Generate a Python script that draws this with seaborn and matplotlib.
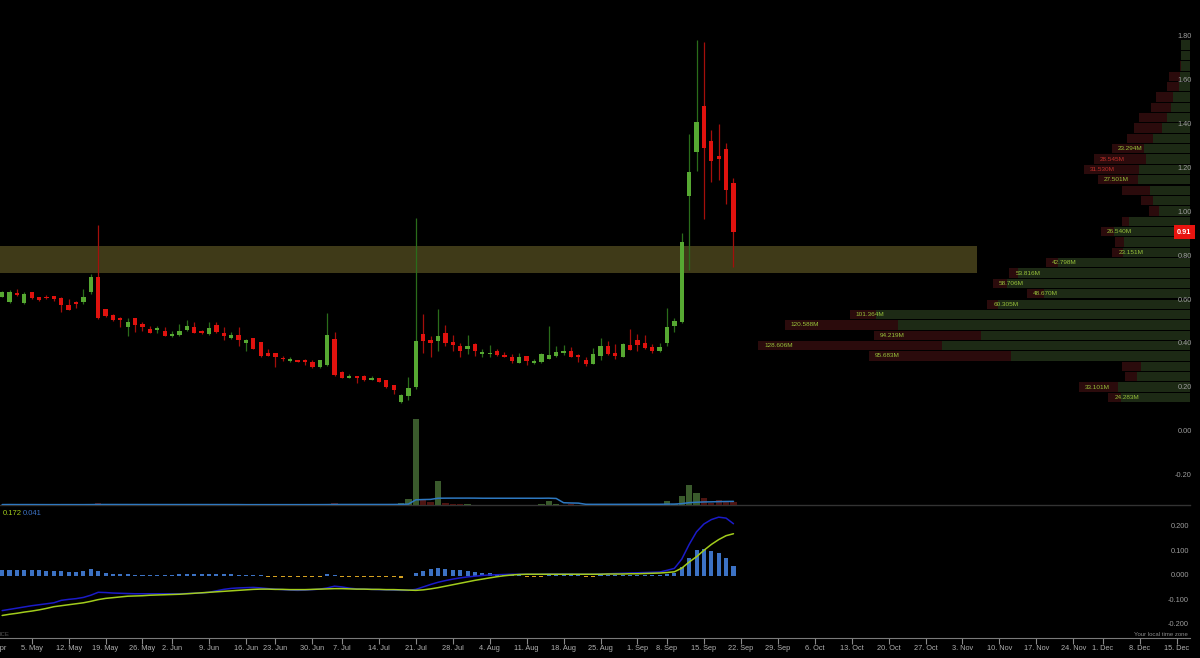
import numpy as np
import pandas as pd
import matplotlib
matplotlib.use("Agg")
import matplotlib.pyplot as plt
import seaborn as sns

# trading calendar (ordinal axis: one slot per trading day)
AXIS_START = "2014-04-28"
FIRST_DAY = "2014-04-29"
HOLIDAYS = ["2014-05-26", "2014-06-19", "2014-07-04", "2014-09-01", "2014-11-27"]

# daily candles
OPEN = [0.616, 0.591, 0.634, 0.585, 0.635, 0.613, 0.616, 0.619, 0.611, 0.579,
        0.590, 0.591, 0.635, 0.707, 0.558, 0.534, 0.520, 0.479, 0.517, 0.490,
        0.470, 0.463, 0.461, 0.437, 0.440, 0.464, 0.478, 0.461, 0.446, 0.485,
        0.451, 0.426, 0.440, 0.405, 0.428, 0.407, 0.358, 0.358, 0.338, 0.322,
        0.329, 0.325, 0.317, 0.294, 0.303, 0.423, 0.273, 0.247, 0.253, 0.252,
        0.237, 0.247, 0.234, 0.212, 0.136, 0.164, 0.203, 0.447, 0.420, 0.414,
        0.452, 0.411, 0.391, 0.376, 0.399, 0.355, 0.356, 0.368, 0.349, 0.342,
        0.315, 0.346, 0.312, 0.317, 0.333, 0.346, 0.358, 0.370, 0.348, 0.327,
        0.311, 0.345, 0.392, 0.361, 0.342, 0.395, 0.418, 0.406, 0.386, 0.370,
        0.406, 0.482, 0.499, 1.076, 1.273, 1.484, 1.324, 1.256, 1.287, 1.135]
HIGH = [0.640, 0.646, 0.649, 0.637, 0.638, 0.616, 0.622, 0.619, 0.616, 0.607,
        0.598, 0.649, 0.720, 0.940, 0.561, 0.538, 0.525, 0.517, 0.517, 0.498,
        0.484, 0.484, 0.479, 0.458, 0.490, 0.510, 0.502, 0.463, 0.499, 0.499,
        0.476, 0.455, 0.479, 0.422, 0.428, 0.407, 0.378, 0.360, 0.346, 0.340,
        0.329, 0.331, 0.328, 0.328, 0.540, 0.455, 0.275, 0.264, 0.255, 0.258,
        0.255, 0.247, 0.237, 0.212, 0.170, 0.249, 0.973, 0.537, 0.438, 0.560,
        0.487, 0.440, 0.406, 0.440, 0.403, 0.377, 0.396, 0.379, 0.365, 0.353,
        0.358, 0.347, 0.330, 0.361, 0.484, 0.389, 0.396, 0.388, 0.355, 0.339,
        0.383, 0.429, 0.414, 0.402, 0.406, 0.467, 0.444, 0.443, 0.402, 0.406,
        0.562, 0.520, 0.907, 1.357, 1.785, 1.774, 1.375, 1.402, 1.314, 1.155]
LOW = [0.612, 0.588, 0.619, 0.582, 0.607, 0.598, 0.604, 0.594, 0.546, 0.555,
       0.563, 0.582, 0.628, 0.514, 0.525, 0.504, 0.479, 0.438, 0.455, 0.458,
       0.449, 0.449, 0.437, 0.434, 0.438, 0.461, 0.449, 0.446, 0.441, 0.451,
       0.419, 0.423, 0.391, 0.370, 0.376, 0.340, 0.343, 0.297, 0.323, 0.319,
       0.317, 0.303, 0.291, 0.291, 0.300, 0.256, 0.246, 0.246, 0.220, 0.231,
       0.235, 0.228, 0.200, 0.174, 0.133, 0.145, 0.197, 0.361, 0.341, 0.370,
       0.391, 0.368, 0.342, 0.355, 0.346, 0.342, 0.342, 0.347, 0.339, 0.314,
       0.312, 0.303, 0.309, 0.315, 0.330, 0.342, 0.350, 0.339, 0.318, 0.300,
       0.308, 0.327, 0.350, 0.330, 0.341, 0.373, 0.368, 0.377, 0.359, 0.365,
       0.391, 0.455, 0.495, 0.737, 1.188, 0.968, 1.136, 1.147, 1.038, 0.749]
CLOSE = [0.637, 0.637, 0.623, 0.629, 0.610, 0.601, 0.608, 0.607, 0.576, 0.555,
         0.581, 0.613, 0.707, 0.520, 0.528, 0.507, 0.511, 0.502, 0.487, 0.478,
         0.452, 0.475, 0.438, 0.446, 0.460, 0.484, 0.451, 0.448, 0.475, 0.455,
         0.438, 0.443, 0.419, 0.419, 0.378, 0.344, 0.346, 0.341, 0.332, 0.332,
         0.319, 0.317, 0.294, 0.328, 0.441, 0.259, 0.247, 0.256, 0.247, 0.234,
         0.247, 0.229, 0.203, 0.191, 0.167, 0.200, 0.414, 0.412, 0.403, 0.438,
         0.406, 0.394, 0.367, 0.391, 0.368, 0.364, 0.361, 0.349, 0.341, 0.321,
         0.339, 0.324, 0.323, 0.356, 0.350, 0.362, 0.368, 0.342, 0.342, 0.309,
         0.353, 0.389, 0.355, 0.344, 0.399, 0.374, 0.394, 0.380, 0.367, 0.388,
         0.479, 0.503, 0.864, 1.185, 1.413, 1.294, 1.235, 1.244, 1.103, 0.910]
# daily volume, millions
VOLUME = [0.6, 0.8, 0.5, 0.7, 0.6, 0.4, 0.4, 0.5, 0.7, 0.6,
          0.4, 0.6, 1.2, 2.6, 0.8, 0.6, 0.5, 0.5, 0.6, 0.4,
          0.5, 0.4, 0.5, 0.4, 0.5, 0.6, 0.5, 0.4, 0.5, 0.5,
          0.6, 0.4, 0.7, 0.5, 0.8, 0.9, 0.6, 0.7, 0.5, 0.4,
          0.5, 0.6, 0.7, 0.6, 1.5, 3.5, 0.8, 0.5, 0.6, 0.5,
          0.4, 0.6, 0.8, 0.9, 3.5, 9.5, 128.6, 8.6, 5.0, 35.6,
          2.6, 1.5, 0.9, 1.0, 0.7, 0.5, 0.6, 0.5, 0.5, 0.6,
          0.5, 0.6, 0.4, 0.9, 5.6, 1.2, 0.7, 0.8, 0.6, 0.7,
          0.9, 2.0, 0.8, 0.7, 1.2, 0.9, 0.8, 0.7, 0.6, 0.8,
          5.6, 2.0, 13.1, 30.5, 18.5, 10.1, 3.5, 7.1, 5.0, 4.1]

# MACD panel
MACD = [-0.143, -0.138, -0.133, -0.128, -0.123, -0.119, -0.115, -0.111, -0.101, -0.097,
        -0.094, -0.089, -0.080, -0.068, -0.069, -0.071, -0.072, -0.073, -0.074, -0.074,
        -0.074, -0.074, -0.074, -0.074, -0.074, -0.073, -0.072, -0.071, -0.068, -0.062,
        -0.056, -0.052, -0.050, -0.049, -0.048, -0.050, -0.053, -0.055, -0.057, -0.059,
        -0.060, -0.059, -0.057, -0.055, -0.050, -0.043, -0.046, -0.051, -0.054, -0.055,
        -0.056, -0.057, -0.058, -0.059, -0.060, -0.060, -0.056, -0.046, -0.036, -0.027,
        -0.020, -0.014, -0.009, -0.005, -0.002, 0.001, 0.003, 0.004, 0.005, 0.006,
        0.006, 0.006, 0.006, 0.006, 0.007, 0.007, 0.007, 0.007, 0.006, 0.006,
        0.006, 0.007, 0.008, 0.009, 0.010, 0.011, 0.012, 0.013, 0.014, 0.015,
        0.022, 0.030, 0.068, 0.128, 0.180, 0.212, 0.230, 0.240, 0.236, 0.213]
SIGNAL = [-0.163, -0.158, -0.154, -0.149, -0.145, -0.140, -0.134, -0.127, -0.123, -0.119,
          -0.115, -0.111, -0.105, -0.098, -0.093, -0.090, -0.087, -0.084, -0.083, -0.082,
          -0.080, -0.079, -0.078, -0.077, -0.076, -0.074, -0.072, -0.070, -0.068, -0.066,
          -0.064, -0.062, -0.060, -0.058, -0.056, -0.055, -0.055, -0.056, -0.056, -0.057,
          -0.057, -0.057, -0.056, -0.055, -0.054, -0.053, -0.053, -0.054, -0.055, -0.055,
          -0.056, -0.056, -0.057, -0.057, -0.058, -0.059, -0.060, -0.058, -0.054, -0.049,
          -0.043, -0.037, -0.031, -0.025, -0.019, -0.014, -0.009, -0.004, 0.000, 0.003,
          0.005, 0.006, 0.006, 0.006, 0.006, 0.006, 0.006, 0.006, 0.006, 0.006,
          0.006, 0.006, 0.007, 0.007, 0.007, 0.008, 0.008, 0.009, 0.010, 0.011,
          0.013, 0.016, 0.031, 0.056, 0.078, 0.104, 0.128, 0.148, 0.164, 0.172]
HIST = [0.023, 0.023, 0.023, 0.023, 0.023, 0.023, 0.020, 0.020, 0.020, 0.016,
        0.016, 0.020, 0.027, 0.019, 0.010, 0.007, 0.007, 0.005, 0.003, 0.003,
        0.003, 0.003, 0.003, 0.003, 0.006, 0.006, 0.006, 0.006, 0.006, 0.006,
        0.006, 0.006, 0.004, 0.002, 0.001, 0.001, -0.004, -0.004, -0.004, -0.004,
        -0.004, -0.004, -0.004, -0.004, 0.008, 0.001, -0.004, -0.004, -0.004, -0.004,
        -0.004, -0.004, -0.004, -0.004, -0.008, -0.003, 0.011, 0.019, 0.027, 0.033,
        0.027, 0.025, 0.023, 0.020, 0.016, 0.011, 0.010, 0.008, 0.005, 0.003,
        0.002, -0.004, -0.004, -0.004, 0.001, 0.001, 0.001, 0.001, 0.001, -0.004,
        -0.004, 0.001, 0.001, 0.002, 0.002, 0.003, 0.003, 0.003, 0.003, 0.003,
        0.006, 0.013, 0.037, 0.072, 0.105, 0.109, 0.102, 0.092, 0.072, 0.041]

# volume by price, millions, bottom bin to top bin
PROFILE_TOTAL = [24.283, 33.101, 19.4, 20.2, 95.683, 128.606, 94.219, 120.588, 101.364, 60.305,
                 48.670, 58.706, 53.816, 42.798, 23.151, 22.4, 26.540, 20.2, 12.2, 14.6,
                 20.2, 27.501, 31.530, 28.545, 23.294, 18.8, 16.6, 15.2, 11.6, 10.1,
                 6.8, 6.2, 3.0, 2.7, 2.7]
PROFILE_SELL = [3.6, 11.6, 3.6, 5.7, 42.3, 54.8, 31.9, 33.6, 8.0, 3.0,
                5.1, 4.2, 2.7, 3.6, 3.3, 2.7, 3.9, 2.1, 3.0, 3.6,
                8.3, 11.9, 16.4, 15.5, 9.5, 7.7, 8.2, 8.5, 5.9, 4.9,
                3.6, 3.2, 0.4, 0.0, 0.0]

# highlighted zone
BAND_LOW, BAND_HIGH = 0.725, 0.845
BAND_END = "2014-11-05"

PRICE_TICKS = [1.80, 1.60, 1.40, 1.20, 1.00, 0.80, 0.60, 0.40, 0.20, 0.00, -0.20]
MACD_TICKS = [0.200, 0.100, 0.000, -0.100, -0.200]
TICK_DATES = ["2014-04-28", "2014-05-05", "2014-05-12", "2014-05-19", "2014-05-26",
              "2014-06-02", "2014-06-09", "2014-06-16", "2014-06-23", "2014-06-30",
              "2014-07-07", "2014-07-14", "2014-07-21", "2014-07-28", "2014-08-04",
              "2014-08-11", "2014-08-18", "2014-08-25", "2014-09-01", "2014-09-08",
              "2014-09-15", "2014-09-22", "2014-09-29", "2014-10-06", "2014-10-13",
              "2014-10-20", "2014-10-27", "2014-11-03", "2014-11-10", "2014-11-17",
              "2014-11-24", "2014-12-01", "2014-12-08", "2014-12-15"]
TICK_LABELS = ["28. Apr", "5. May", "12. May", "19. May", "26. May", "2. Jun", "9. Jun",
               "16. Jun", "23. Jun", "30. Jun", "7. Jul", "14. Jul", "21. Jul", "28. Jul",
               "4. Aug", "11. Aug", "18. Aug", "25. Aug", "1. Sep", "8. Sep", "15. Sep",
               "22. Sep", "29. Sep", "6. Oct", "13. Oct", "20. Oct", "27. Oct", "3. Nov",
               "10. Nov", "17. Nov", "24. Nov", "1. Dec", "8. Dec", "15. Dec"]

GREEN_BODY, GREEN_WICK = "#56a832", "#2a6c1a"
RED_BODY, RED_WICK = "#e0120e", "#a40f0b"
LABEL_GRAY = "#9c9c9c"


def slot(dates):
    return np.busday_count(AXIS_START, np.array(dates, dtype="datetime64[D]"), holidays=HOLIDAYS)


sns.set_theme(style="dark", rc={"axes.facecolor": "black", "figure.facecolor": "black",
                                "savefig.facecolor": "black"})
plt.rcParams["font.family"] = ["Liberation Sans Narrow", "Liberation Sans", "DejaVu Sans"]

W, H = 1200, 658
fig = plt.figure(figsize=(W / 100, H / 100), dpi=100)
ax = fig.add_axes([0, 1 - 505 / H, 1190 / W, 505 / H])
ax_macd = fig.add_axes([0, 1 - 638 / H, 1190 / W, 131 / H], sharex=ax)

o, h, l, c = (np.array(v) for v in (OPEN, HIGH, LOW, CLOSE))
dates = np.busday_offset(FIRST_DAY, np.arange(len(o)), roll="forward", holidays=HOLIDAYS)
x = slot(dates)
up = c >= o

# zone
ax.fill_between([0.0, slot([BAND_END])[0]], BAND_LOW, BAND_HIGH, color="#3f3a18", lw=0, zorder=1)

# candles
ax.vlines(x[up], l[up], h[up], color=GREEN_WICK, lw=0.9, zorder=3)
ax.vlines(x[~up], l[~up], h[~up], color=RED_WICK, lw=0.9, zorder=3)
body_lo = np.minimum(o, c)
body_h = np.maximum(np.abs(c - o), 0.005)
ax.bar(x, body_h, bottom=body_lo, width=0.58, lw=0,
       color=np.where(up, GREEN_BODY, RED_BODY), zorder=4)

ax.set_xlim(0.71, 161.8)
ax.set_ylim(-0.3335, 1.967)

# volume
ax_vol = ax.twinx()
ax_vol.bar(x, VOLUME, width=0.85, lw=0, color=np.where(up, "#3a5a2c", "#4e1512"), zorder=2)
vol_sma = pd.Series(VOLUME).rolling(20, min_periods=1).mean()
sns.lineplot(x=x, y=vol_sma.values, ax=ax_vol, color="#2e78c0", lw=1.1)
ax_vol.set_ylim(0, 757.5)

# volume by price
ax_prof = ax.twiny()
total = np.array(PROFILE_TOTAL)
sell = np.array(PROFILE_SELL)
buy = total - sell
edges = np.linspace(l.min(), h.max(), len(total) + 1)
step = edges[1] - edges[0]
centers = edges[:-1] + step / 2
ax_prof.barh(centers, buy, height=step * 0.9, left=0, color="#1d2a15", lw=0)
ax_prof.barh(centers, sell, height=step * 0.9, left=buy, color="#2b0b0c", lw=0)
for yc, t, s, b in zip(centers, total, sell, buy):
    if t >= 23:
        ax_prof.annotate(f"{t:.3f}M", (t, yc), xytext=(6, 0), textcoords="offset pixels",
                         ha="left", va="center", fontsize=4.6,
                         color="#c0302a" if s > b else "#98c23a")
ax_prof.set_xlim(354.3, 0)

# price labels
ytr = ax.get_yaxis_transform()
for v in PRICE_TICKS:
    ax_prof.text(1192 / 1190, v, f"{v:.2f}", transform=ytr, ha="right", va="center",
                 fontsize=5.3, color=LABEL_GRAY)
ax_prof.text(1184 / 1190, c[-1], f"{c[-1]:.2f}", transform=ytr, ha="center", va="center",
             fontsize=5.3, color="white", weight="bold",
             bbox=dict(boxstyle="square,pad=0.45", fc="#e8140f", ec="none"))

# MACD
ax_macd.bar(x, HIST, width=0.55, lw=0,
            color=np.where(np.array(HIST) >= 0, "#3c72c4", "#d4a020"), zorder=2)
sns.lineplot(x=x, y=MACD, ax=ax_macd, color="#1b1bc8", lw=1.1, zorder=3)
sns.lineplot(x=x, y=SIGNAL, ax=ax_macd, color="#a2cc1c", lw=1.1, zorder=3)
ax_macd.set_ylim(-0.2553, 0.2816)
mtr = ax_macd.get_yaxis_transform()
for v in MACD_TICKS:
    ax_macd.text(1189 / 1190, v, f"{v:.3f}", transform=mtr, ha="right", va="center",
                 fontsize=5.3, color=LABEL_GRAY)
ax_macd.text(3 / 1190, 0.947, f"{SIGNAL[-1]:.3f}", transform=ax_macd.transAxes,
             ha="left", va="center", fontsize=5.5, color="#a2cc1c")
ax_macd.text(23 / 1190, 0.947, f"{HIST[-1]:.3f}", transform=ax_macd.transAxes,
             ha="left", va="center", fontsize=5.5, color="#3c72c4")
ax_macd.text(1188 / 1190, 0.03, "Your local time zone", transform=ax_macd.transAxes,
             ha="right", va="center", fontsize=4.3, color="#8a8a8a")
fig.text(0.0, 1 - 634 / H, "ICE", ha="left", va="center", fontsize=4.3, color="#555555")

# x axis
tick_x = slot(TICK_DATES)
ax_macd.set_xticks(tick_x[tick_x >= 0.71])
ax_macd.set_xticklabels([])
ax_macd.tick_params(axis="x", bottom=True, length=4, width=0.8, color="#8a8a8a", direction="out")
xtr = ax_macd.get_xaxis_transform()
for tx, lab in zip(tick_x, TICK_LABELS):
    ax_macd.text(tx, -0.077, lab, transform=xtr, ha="center", va="center",
                 fontsize=5.3, color="#b0b0b0", clip_on=False)

for a in (ax, ax_vol, ax_prof, ax_macd):
    a.grid(False)
    a.set_xlabel("")
    a.set_ylabel("")
    a.set_yticks([])
    for sp in a.spines.values():
        sp.set_visible(False)
ax_prof.set_xticks([])
ax.tick_params(axis="x", bottom=False, labelbottom=False)
ax_vol.tick_params(axis="x", bottom=False, labelbottom=False)
ax.spines["bottom"].set_visible(True)
ax.spines["bottom"].set_color("#333333")
ax.spines["bottom"].set_linewidth(1.0)
ax_macd.spines["bottom"].set_visible(True)
ax_macd.spines["bottom"].set_color("#7a7a7a")
ax_macd.spines["bottom"].set_linewidth(0.8)

fig.savefig("out.png", dpi=100, facecolor="black")
